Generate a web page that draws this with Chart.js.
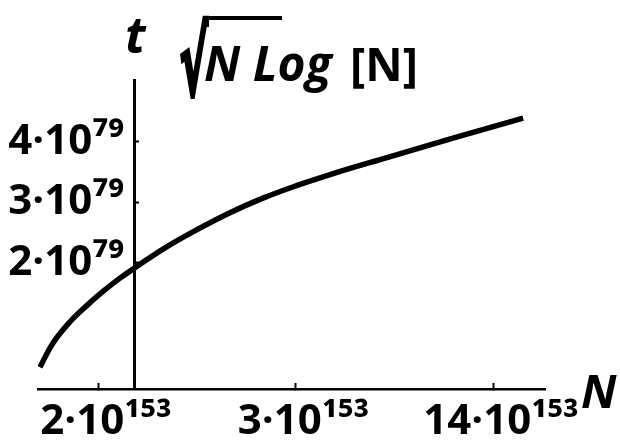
<!DOCTYPE html>
<html>
<head>
<meta charset="utf-8">
<script src="https://cdn.jsdelivr.net/npm/chart.js@4.4.1/dist/chart.umd.min.js"></script>
<style>
  html, body { margin: 0; padding: 0; background: #fff; }
</style>
</head>
<body>
<canvas id="myChart" width="620" height="442"></canvas>
<script>
// N positions (in tick units: 2 -> "2·10^153", 3 -> "3·10^153", 4 -> "14·10^153")
const nValues = [1.706, 1.772, 1.858, 1.944, 2.025, 2.111, 2.187, 2.329, 2.501, 2.668, 2.835, 3.008, 3.175, 3.463, 3.797, 4.152];
// t values in units of 10^79
const tValues = [0.28, 0.68, 1.03, 1.30, 1.53, 1.75, 1.92, 2.23, 2.55, 2.83, 3.07, 3.28, 3.46, 3.74, 4.06, 4.39];

const xTicks = [2, 3, 4];
const xTickLabels = ['2·10¹⁵³', '3·10¹⁵³', '14·10¹⁵³'];
const yTicks = [2, 3, 4];
const yTickLabels = ['2·10⁷⁹', '3·10⁷⁹', '4·10⁷⁹'];
const yAxisAt = 2.187;

const tickFont = { family: '"Open Sans", "DejaVu Sans", sans-serif', size: 42, weight: 'bold' };

const formulaLabels = {
  id: 'formulaLabels',
  afterDraw(chart) {
    const c = chart.ctx;
    c.save();
    c.fillStyle = '#000';
    c.strokeStyle = '#000';
    c.textAlign = 'left';
    c.textBaseline = 'alphabetic';

    c.font = 'italic bold 50px "Open Sans"';
    c.fillText('t', 125, 53);

    // radical sign fitted to its box, then the bar over it
    c.font = 'bold 100px "DejaVu Sans"';
    const m = c.measureText('√');
    const gh = m.actualBoundingBoxAscent + m.actualBoundingBoxDescent;
    const gw = m.actualBoundingBoxLeft + m.actualBoundingBoxRight;
    c.save();
    c.translate(181, 18);
    c.scale(27 / gw, 79 / gh);
    c.lineWidth = 5;
    c.fillText('√', m.actualBoundingBoxLeft, m.actualBoundingBoxAscent);
    c.strokeText('√', m.actualBoundingBoxLeft, m.actualBoundingBoxAscent);
    c.restore();
    c.fillRect(205, 16, 77, 4);

    c.font = 'italic bold 48px "Open Sans"';
    c.fillText('N Log', 204, 81);
    c.font = 'bold 46px "Open Sans"';
    c.fillText('[N]', 350, 81);

    c.font = 'italic bold 47px "Open Sans"';
    c.fillText('N', 581, 408);
    c.restore();
  }
};

const ctx = document.getElementById('myChart');

new Chart(ctx, {
  type: 'line',
  data: {
    datasets: [{
      label: 'sqrt(N Log[N])',
      data: nValues.map((n, i) => ({ x: n, y: tValues[i] })),
      borderColor: '#000',
      borderWidth: 5.5,
      pointRadius: 0,
      fill: false,
      tension: 0.4
    }]
  },
  options: {
    responsive: false,
    animation: false,
    devicePixelRatio: 1,
    layout: { padding: { left: 38, right: 75, top: 80, bottom: 0 } },
    plugins: {
      legend: { display: false },
      tooltip: { enabled: false }
    },
    scales: {
      x: {
        type: 'linear',
        position: 'bottom',
        min: 1.696,
        max: 4.263,
        afterBuildTicks: s => { s.ticks = xTicks.map(v => ({ value: v })); },
        afterFit: s => { s.height = 53; },
        ticks: {
          callback: v => xTickLabels[xTicks.indexOf(v)],
          font: tickFont,
          color: '#000',
          padding: 14,
          labelOffset: 8,
          maxRotation: 0,
          autoSkip: false
        },
        grid: { drawOnChartArea: false, drawTicks: true, tickLength: -6, tickWidth: 2, tickColor: '#000' },
        border: { color: '#000', width: 2.5 }
      },
      y: {
        type: 'linear',
        position: { x: yAxisAt },
        min: -0.08,
        max: 5.02,
        afterBuildTicks: s => { s.ticks = yTicks.map(v => ({ value: v })); },
        afterFit: s => { s.width = 0; },
        ticks: {
          callback: v => yTickLabels[yTicks.indexOf(v)] + ' ',
          font: tickFont,
          color: '#000',
          autoSkip: false
        },
        grid: { drawOnChartArea: false, drawTicks: true, tickLength: -6, tickWidth: 2, tickColor: '#000' },
        border: { color: '#000', width: 3 }
      }
    }
  },
  plugins: [formulaLabels]
});
</script>
</body>
</html>
